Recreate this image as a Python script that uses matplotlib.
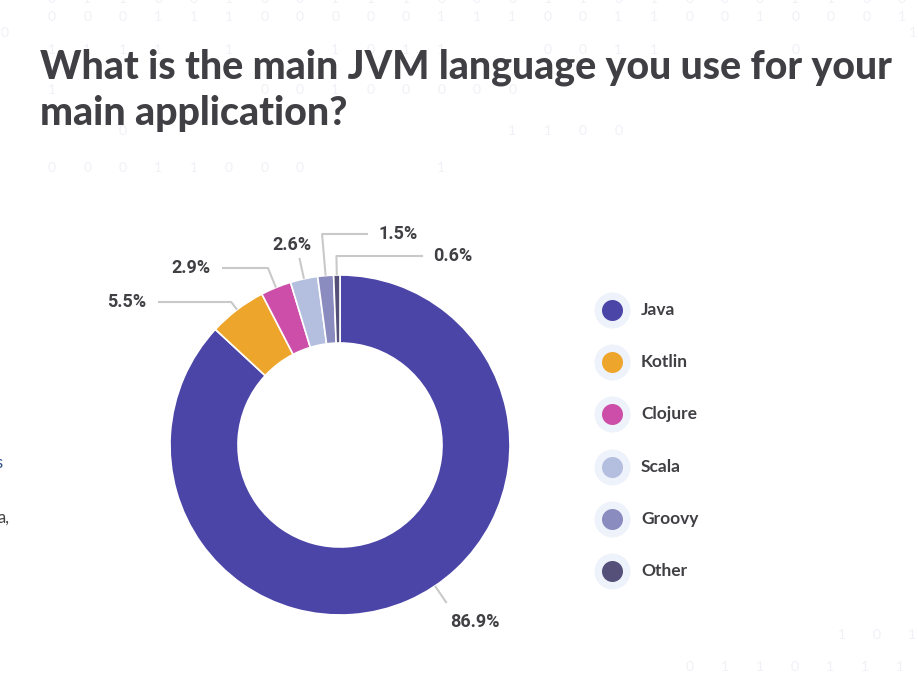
import matplotlib
matplotlib.use('Agg')
import matplotlib.pyplot as plt
import numpy as np

W, H = 918, 678

languages = ['Java', 'Kotlin', 'Clojure', 'Scala', 'Groovy', 'Other']
shares = [86.9, 5.5, 2.9, 2.6, 1.5, 0.6]
colors = ['#4b45a8', '#eea52c', '#cc4ea8', '#b4bedf', '#8a8bbf', '#54507a']

titleLines = ['What is the main JVM language you use for your',
              'main application?']

# faint binary digits in the page background: (y px, first x px, digits)
bgRows = [
    (-1, 52, '0110010011100011010001100'),
    (17, 52, '0001110000011100110010001'),
    (50, 52, '1111 1  1011  0011   0'),
    (90, 52, '1     00100000'),
    (131, 52, '  0          1100'),
    (168, 52, '00011000   1'),
]
bgCorner = [(33, 5, '0'), (33, 913, '1')]
bgBottom = [(635, 842, '101'), (667, 690, '0110111')]
bgStep = 35.4

titleFont = 'Lato'
labelFont = 'Roboto'
textColor = '#3f3f44'
digitColor = '#f0f1f6'

cx, cy, R = 340, 445, 170
holeFrac = 0.6

# label layout: (angle override, radial end y, horizontal end x, text x, text y, ha)
labelLayout = {
    'Java':    (-56, 603, None, 450, 622, 'left'),
    'Kotlin':  (None, 302, 158, 146, 302, 'right'),
    'Clojure': (None, 268, 222, 210, 268, 'right'),
    'Scala':   (None, 258, None, 292, 245, 'center'),
    'Groovy':  (None, 234, 368, 378, 234, 'left'),
    'Other':   (None, 256, 423, 433, 256, 'left'),
}


def Y(y):
    return H - y


fig = plt.figure(figsize=(W / 100, H / 100), dpi=100)
fig.patch.set_facecolor('white')
ax = fig.add_axes([0, 0, 1, 1])

#
# Background digits
#
for y, x0, digits in bgRows:
    for i, d in enumerate(digits):
        if d != ' ':
            ax.text(x0 + i * bgStep, Y(y), d, ha='center', va='center',
                    fontsize=10, color=digitColor, family=titleFont, zorder=0)
for y, x0, digits in bgCorner + bgBottom:
    for i, d in enumerate(digits):
        ax.text(x0 + i * 35.0, Y(y), d, ha='center', va='center',
                fontsize=10, color=digitColor, family=titleFont, zorder=0)

# cut-off text at the left page edge
ax.text(-5, Y(463), 's', ha='left', va='center', fontsize=12,
        color='#2c4f8c', family=titleFont)
ax.text(-2, Y(518), 'a,', ha='left', va='center', fontsize=12,
        color='#444444', family=titleFont)

#
# Donut
#
wedges, _ = ax.pie(
    shares, colors=colors, startangle=90, counterclock=False,
    center=(cx, Y(cy)), radius=R,
    wedgeprops=dict(width=R * (1 - holeFrac), edgecolor='white',
                    linewidth=1.2)
)

for w, lang, share in zip(wedges, languages, shares):
    angOverride, yEnd, xEnd, tx, ty, ha = labelLayout[lang]
    ang = (w.theta1 + w.theta2) / 2 if angOverride is None else angOverride
    a = np.deg2rad(ang)
    x0, y0 = cx + R * np.cos(a), cy - R * np.sin(a)
    rEnd = (cy - yEnd) / np.sin(a)
    x1, y1 = cx + rEnd * np.cos(a), yEnd
    xs, ys = [x0, x1], [y0, y1]
    if xEnd is not None:
        xs.append(xEnd)
        ys.append(y1)
    ax.plot(xs, [Y(v) for v in ys], color='#c9c9c9', lw=1.5,
            solid_capstyle='butt', zorder=1)
    ax.text(tx, Y(ty + 5), f'{share}%', ha=ha, va='baseline',
            fontsize=13, fontweight='bold', color=textColor,
            family=labelFont)

#
# Legend
#
for i, (lang, col) in enumerate(zip(languages, colors)):
    ly = 310 + i * 52.2
    ax.scatter([612], [Y(ly)], s=(2 * 18 * 0.72) ** 2, color='#eef2fa',
               linewidths=0, zorder=2)
    ax.scatter([612], [Y(ly)], s=(2 * 10.5 * 0.72) ** 2, color=col,
               linewidths=0, zorder=3)
    ax.text(641, Y(ly + 5), lang, ha='left', va='baseline', fontsize=12.5,
            fontweight='bold', color=textColor, family=titleFont)

ax.set_xlim(0, W)
ax.set_ylim(0, H)
ax.set_aspect('auto')
ax.axis('off')

#
# Title, scaled so the first line spans the same width as the reference
#
t1 = fig.text(40 / W, 1 - 79 / H, titleLines[0], fontsize=30,
              fontweight='black', color=textColor, family=titleFont,
              va='baseline')
t2 = fig.text(40 / W, 1 - 125 / H, titleLines[1], fontsize=30,
              fontweight='black', color=textColor, family=titleFont,
              va='baseline')
fig.canvas.draw()
width = t1.get_window_extent().width
size = 30 * 850 / width
t1.set_fontsize(size)
t2.set_fontsize(size)

fig.savefig('out.png', dpi=100, facecolor='white')
